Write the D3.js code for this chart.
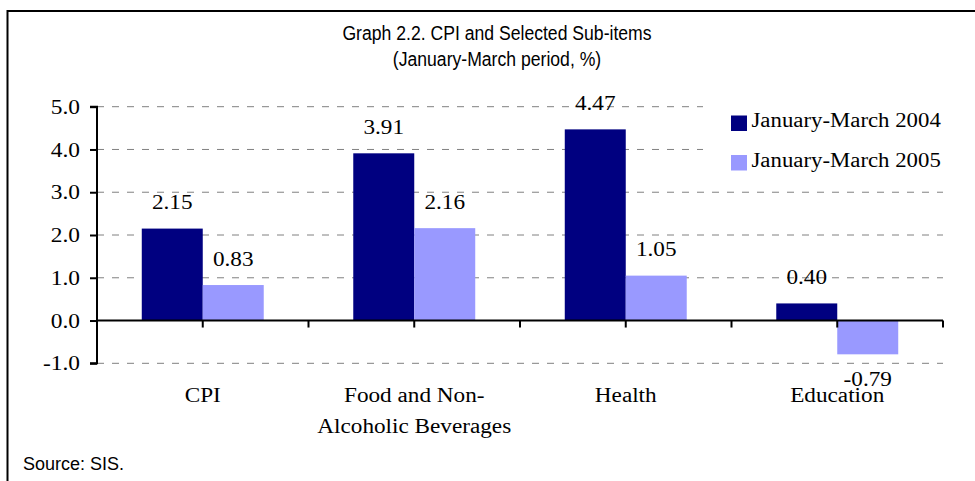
<!DOCTYPE html>
<html>
<head>
<meta charset="utf-8">
<script src="https://cdn.jsdelivr.net/npm/d3@7"></script>
<style>
  html, body { margin: 0; padding: 0; background: #fff; }
  svg { display: block; }
</style>
</head>
<body>
<svg id="chart" width="975" height="481"></svg>
<script>
// ---- data ----
const categories = [["CPI"], ["Food and Non-", "Alcoholic Beverages"], ["Health"], ["Education"]];
const seriesNames = ["January-March 2004", "January-March 2005"];
const values2004 = [2.15, 3.91, 4.47, 0.40];
const values2005 = [0.83, 2.16, 1.05, -0.79];
const yTicks = [-1, 0, 1, 2, 3, 4, 5];
const titleLines = ["Graph 2.2. CPI and Selected Sub-items", "(January-March period, %)"];
const sourceText = "Source: SIS.";

// ---- styles ----
const colors = ["#000080", "#9999FF"];
const serif = "'Liberation Serif', 'Times New Roman', serif";
const sans = "'Liberation Sans', Arial, sans-serif";

const svg = d3.select("#chart");

function stretch(sel, factor) {
  sel.each(function () {
    const len = this.getComputedTextLength();
    d3.select(this).attr("textLength", len * factor).attr("lengthAdjust", "spacingAndGlyphs");
  });
  return sel;
}

// frame
svg.append("rect")
  .attr("x", 7.5).attr("y", 11)
  .attr("width", 1000).attr("height", 500)
  .attr("fill", "none").attr("stroke", "#000").attr("stroke-width", 2);

// title
titleLines.forEach((t, i) => {
  const el = svg.append("text")
    .attr("x", 497).attr("y", 40 + i * 26)
    .attr("text-anchor", "middle")
    .attr("font-family", sans).attr("font-size", 20)
    .attr("fill", "#000")
    .text(t);
  stretch(el, 0.88);
});

// scales
const x = d3.scaleBand().domain(d3.range(categories.length)).range([97, 943]).paddingInner(0).paddingOuter(0);
const xs = d3.scaleBand().domain([0, 1]).range([0, x.bandwidth()]).paddingInner(0).paddingOuter(0.734);
const y = d3.scaleLinear().domain([-1, 5]).range([363.3, 106.7]);

// gridlines
svg.append("g").selectAll("line")
  .data(yTicks.filter(d => d !== 0))
  .join("line")
  .attr("x1", 97).attr("x2", 943)
  .attr("y1", d => y(d)).attr("y2", d => y(d))
  .attr("stroke", "#808080").attr("stroke-width", 1)
  .attr("stroke-dasharray", "7,8");

// bars
const seriesData = [values2004, values2005];
seriesData.forEach((vals, s) => {
  svg.append("g").selectAll("rect")
    .data(vals)
    .join("rect")
    .attr("x", (d, i) => x(i) + xs(s))
    .attr("width", xs.bandwidth())
    .attr("y", d => y(Math.max(0, d)))
    .attr("height", d => Math.abs(y(d) - y(0)))
    .attr("fill", colors[s]);
});

// value labels
seriesData.forEach((vals, s) => {
  svg.append("g").selectAll("text")
    .data(vals)
    .join("text")
    .attr("x", (d, i) => x(i) + xs(s) + xs.bandwidth() / 2)
    .attr("y", d => d >= 0 ? y(d) - 19.5 : y(d) + 32)
    .attr("text-anchor", "middle")
    .attr("font-family", serif).attr("font-size", 20)
    .attr("fill", "#000")
    .text(d => d.toFixed(2))
    .call(stretch, 1.16);
});

// y axis
const yAxis = d3.axisLeft(y).tickValues(yTicks).tickSize(7).tickPadding(10).tickFormat(d => d.toFixed(1));
const gy = svg.append("g").attr("transform", "translate(97,0)").call(yAxis);
gy.select(".domain").attr("stroke", "#000").attr("stroke-width", 2).attr("d", `M-7,${y(5)}H0V${y(-1)}H-7`);
gy.selectAll(".tick line").attr("stroke", "#000").attr("stroke-width", 2);
gy.selectAll(".tick text")
  .attr("font-family", serif).attr("font-size", 20).attr("fill", "#000")
  .attr("dy", "0.33em")
  .call(stretch, 1.17);

// x axis line at zero
const xTickPos = [];
d3.range(categories.length).forEach(i => { xTickPos.push(x(i)); xTickPos.push(x(i) + x.bandwidth() / 2); });
xTickPos.push(x(categories.length - 1) + x.bandwidth());
const gx = svg.append("g");
gx.append("line")
  .attr("x1", 97).attr("x2", 943)
  .attr("y1", y(0)).attr("y2", y(0))
  .attr("stroke", "#000").attr("stroke-width", 2);
gx.selectAll("line.tk")
  .data(xTickPos)
  .join("line").attr("class", "tk")
  .attr("x1", d => d).attr("x2", d => d)
  .attr("y1", y(0)).attr("y2", y(0) + 7)
  .attr("stroke", "#000").attr("stroke-width", 2);

// category labels
categories.forEach((lines, i) => {
  lines.forEach((t, j) => {
    const el = svg.append("text")
      .attr("x", x(i) + x.bandwidth() / 2)
      .attr("y", 401.5 + j * 31)
      .attr("text-anchor", "middle")
      .attr("font-family", serif).attr("font-size", 20)
      .attr("fill", "#000")
      .text(t);
    stretch(el, 1.16);
  });
});

// legend
svg.append("rect").attr("x", 703).attr("y", 95).attr("width", 245).attr("height", 85).attr("fill", "#fff");
seriesNames.forEach((name, s) => {
  const g = svg.append("g").attr("transform", `translate(731, ${115.5 + s * 39.5})`);
  g.append("rect").attr("width", 16).attr("height", 15.5).attr("fill", colors[s]);
  const el = g.append("text")
    .attr("x", 20.5).attr("y", 11.5)
    .attr("font-family", serif).attr("font-size", 20)
    .attr("fill", "#000")
    .text(name);
  stretch(el, 1.14);
});

// source
svg.append("text")
  .attr("x", 23).attr("y", 470)
  .attr("font-family", sans).attr("font-size", 18)
  .attr("fill", "#000")
  .text(sourceText);
</script>
</body>
</html>
